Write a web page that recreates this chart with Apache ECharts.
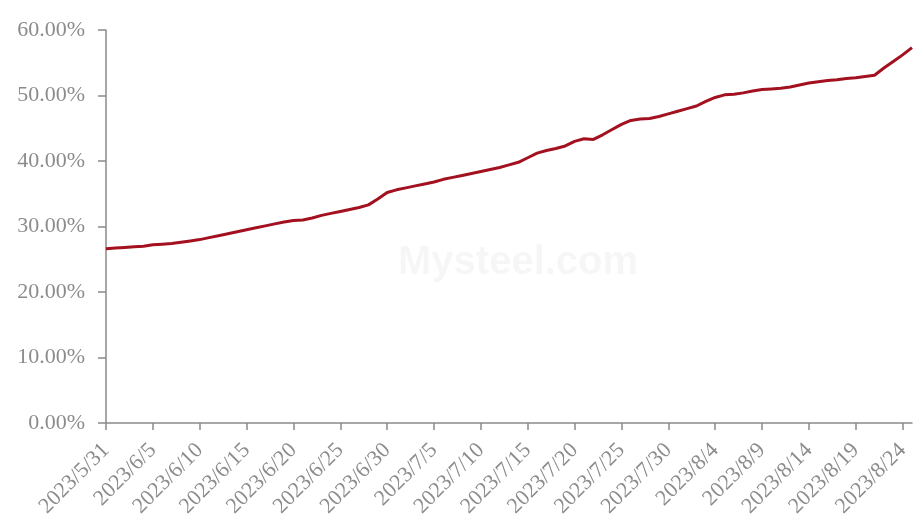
<!DOCTYPE html>
<html>
<head>
<meta charset="utf-8">
<script src="https://cdn.jsdelivr.net/npm/echarts@6/dist/echarts.min.js"></script>
<style>
html,body{margin:0;padding:0;background:#fff;}
#chart{width:913px;height:525px;}
</style>
</head>
<body>
<div id="chart"></div>
<script>
// Categories: daily dates 2023/5/31 .. 2023/8/25
var categories = [
  "2023/5/31",
  "2023/6/1","2023/6/2","2023/6/3","2023/6/4","2023/6/5","2023/6/6","2023/6/7","2023/6/8","2023/6/9","2023/6/10",
  "2023/6/11","2023/6/12","2023/6/13","2023/6/14","2023/6/15","2023/6/16","2023/6/17","2023/6/18","2023/6/19","2023/6/20",
  "2023/6/21","2023/6/22","2023/6/23","2023/6/24","2023/6/25","2023/6/26","2023/6/27","2023/6/28","2023/6/29","2023/6/30",
  "2023/7/1","2023/7/2","2023/7/3","2023/7/4","2023/7/5","2023/7/6","2023/7/7","2023/7/8","2023/7/9","2023/7/10",
  "2023/7/11","2023/7/12","2023/7/13","2023/7/14","2023/7/15","2023/7/16","2023/7/17","2023/7/18","2023/7/19","2023/7/20",
  "2023/7/21","2023/7/22","2023/7/23","2023/7/24","2023/7/25","2023/7/26","2023/7/27","2023/7/28","2023/7/29","2023/7/30",
  "2023/7/31","2023/8/1","2023/8/2","2023/8/3","2023/8/4","2023/8/5","2023/8/6","2023/8/7","2023/8/8","2023/8/9",
  "2023/8/10","2023/8/11","2023/8/12","2023/8/13","2023/8/14","2023/8/15","2023/8/16","2023/8/17","2023/8/18","2023/8/19",
  "2023/8/20","2023/8/21","2023/8/22","2023/8/23","2023/8/24","2023/8/25"
];

// Series values (percent)
var values = [
  26.6,
  26.7,26.8,26.9,27.0,27.2,27.3,27.4,27.6,27.8,28.0,
  28.3,28.6,28.9,29.2,29.5,29.8,30.1,30.4,30.7,30.9,
  31.0,31.3,31.7,32.0,32.3,32.6,32.9,33.3,34.2,35.2,
  35.6,35.9,36.2,36.5,36.8,37.2,37.5,37.8,38.1,38.4,
  38.7,39.0,39.4,39.8,40.5,41.2,41.6,41.9,42.3,43.0,
  43.4,43.3,44.0,44.8,45.6,46.2,46.4,46.5,46.8,47.2,
  47.6,48.0,48.4,49.1,49.7,50.1,50.2,50.4,50.7,50.9,
  51.0,51.1,51.3,51.6,51.9,52.1,52.3,52.4,52.6,52.7,
  52.9,53.1,54.2,55.2,56.2,57.3
];

// Y tick values
var yTicks = [0, 10, 20, 30, 40, 50, 60];

var chart = echarts.init(document.getElementById('chart'), null, {renderer: 'canvas'});
var labelFont = '"Liberation Serif", "Times New Roman", serif';
chart.setOption({
  animation: false,
  backgroundColor: '#ffffff',
  graphic: [{
    type: 'text',
    left: 398,
    top: 243,
    silent: true,
    style: {
      text: 'Mysteel.com',
      font: 'bold 40px "Liberation Sans", Arial, sans-serif',
      fill: 'rgba(0,0,0,0.035)'
    }
  }],
  grid: {left: 106, right: 1, top: 30, bottom: 102, containLabel: false},
  xAxis: {
    type: 'category',
    data: categories,
    boundaryGap: false,
    axisLine: {lineStyle: {color: '#8a8a8a', width: 1.5}},
    axisTick: {show: true, interval: 4, length: 7, inside: false, lineStyle: {color: '#8a8a8a', width: 1.5}},
    axisLabel: {
      interval: 4,
      rotate: 45,
      margin: 24,
      color: '#8c8c8c',
      fontFamily: labelFont,
      fontSize: 22
    },
    splitLine: {show: false}
  },
  yAxis: {
    type: 'value',
    min: yTicks[0],
    max: yTicks[yTicks.length - 1],
    interval: 10,
    axisLine: {show: true, lineStyle: {color: '#8a8a8a', width: 1.5}},
    axisTick: {show: true, length: 8, lineStyle: {color: '#8a8a8a', width: 1.5}},
    axisLabel: {
      margin: 21,
      color: '#8c8c8c',
      fontFamily: labelFont,
      fontSize: 22,
      formatter: function (v) { return v.toFixed(2) + '%'; }
    },
    splitLine: {show: false}
  },
  series: [{
    type: 'line',
    data: values,
    showSymbol: false,
    smooth: false,
    lineStyle: {color: '#A3101F', width: 3},
    itemStyle: {color: '#A3101F'}
  }]
});
</script>
</body>
</html>
